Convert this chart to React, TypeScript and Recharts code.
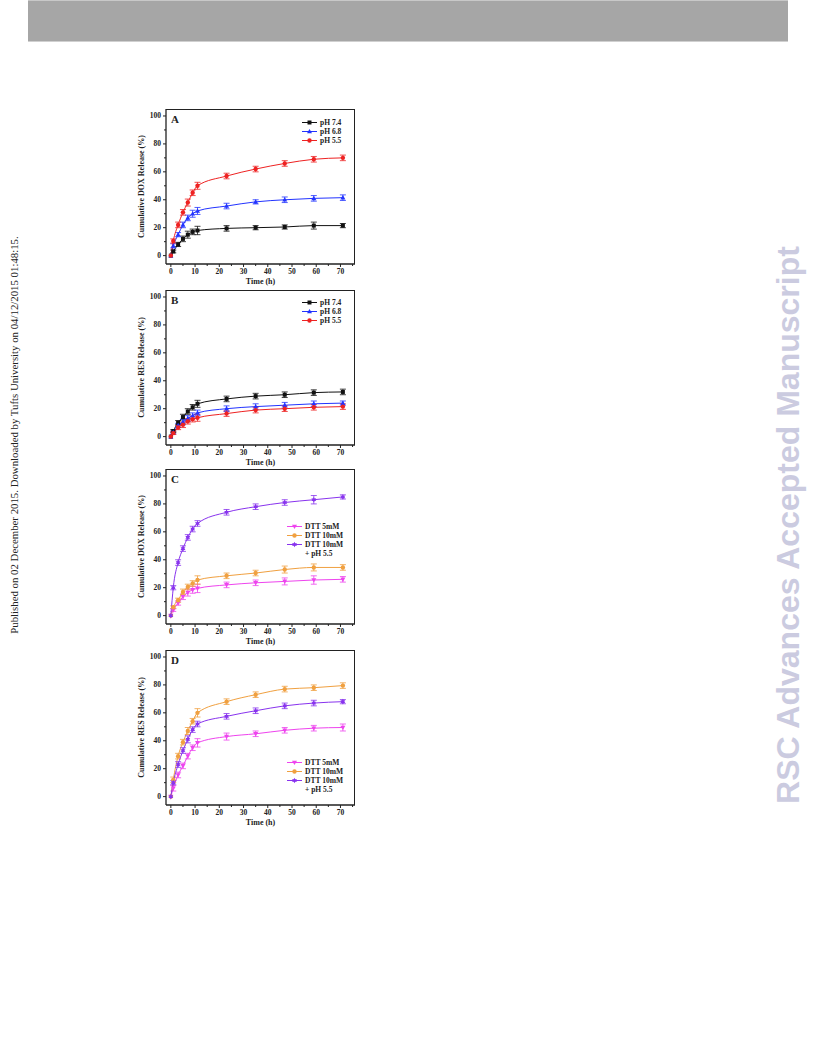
import React from 'react';
import { LineChart, Line, XAxis, YAxis, ErrorBar, Label } from 'recharts';

// sampling times (h)
const hours = [0, 1, 3, 5, 7, 9, 11, 23, 35, 47, 59, 71];

// A: DOX release at different pH
const doxPh74 = [0, 3, 8, 12, 15, 17, 18, 19.5, 20, 20.5, 21.5, 21.5];
const doxPh74Err = [0, 1, 1.5, 2, 2.5, 2, 3, 2, 1.5, 1.5, 2.5, 1.5];
const doxPh68 = [0, 7, 15, 22, 27, 30, 32, 35.5, 38.5, 40, 41, 41.5];
const doxPh68Err = [0, 1.5, 1.5, 2, 2, 2.5, 2.5, 2, 1.5, 2, 2, 2];
const doxPh55 = [0, 10.5, 22, 31, 38, 45, 50, 57, 62, 66, 69, 70];
const doxPh55Err = [0, 1.5, 2, 2, 2.5, 2, 2.5, 2, 2, 2, 2, 2];

// B: RES release at different pH
const resPh74 = [0, 4, 10, 14, 18, 21, 23.5, 27, 29, 30, 31.5, 32];
const resPh74Err = [0, 1, 1.5, 2, 2, 2, 2.5, 2, 2, 2, 2, 2];
const resPh68 = [0, 3, 8, 10.5, 13, 15, 17, 20, 21.5, 22.5, 23.5, 24];
const resPh68Err = [0, 1, 1.5, 2, 2, 2, 2, 2, 2, 2, 2, 1.5];
const resPh55 = [0, 2.5, 6.5, 8.5, 11, 12.5, 13.5, 16.5, 19, 20, 21, 21.5];
const resPh55Err = [0, 1, 1.5, 2, 2, 2, 2.5, 2, 2, 2, 2, 2];

// C: DOX release with DTT
const doxDtt5 = [0, 4, 9, 13.5, 16.5, 18.5, 19.5, 22, 23.5, 24.5, 25.5, 26];
const doxDtt5Err = [0, 1, 1.5, 2, 2.5, 2.5, 3, 2, 2, 2.5, 3, 2];
const doxDtt10 = [0, 6, 11, 17, 20.5, 23, 25.5, 28.5, 30.5, 33, 34.5, 34.5];
const doxDtt10Err = [0, 1, 1.5, 2, 2, 2, 3, 2, 2, 2.5, 2.5, 2];
const doxDtt10Ph55 = [0, 20, 38, 48, 56, 62, 66, 74, 78, 81, 83, 85];
const doxDtt10Ph55Err = [0, 1.5, 2, 2, 2, 2, 2, 2, 2, 2, 3, 1.5];

// D: RES release with DTT
const resDtt5 = [0, 6, 15.5, 22, 29, 35, 38.5, 43, 45, 47.5, 49, 49.5];
const resDtt5Err = [0, 2, 2, 2, 2, 2, 3, 2.5, 2, 2, 2, 2.5];
const resDtt10 = [0, 12, 29, 39, 47, 54, 60, 68, 73, 77, 78, 79.5];
const resDtt10Err = [0, 2, 2, 2, 2.5, 2, 3, 2, 2, 2, 2, 2];
const resDtt10Ph55 = [0, 10, 23, 33, 41, 48, 52, 57.5, 61.5, 65, 67, 68];
const resDtt10Ph55Err = [0, 1.5, 2, 2, 2.5, 2, 2, 2, 2, 2, 2, 1.5];

const xTicks = [0, 5, 10, 15, 20, 25, 30, 35, 40, 45, 50, 55, 60, 65, 70, 75];
const yTicks = [0, 10, 20, 30, 40, 50, 60, 70, 80, 90, 100];

const FONT = '"Liberation Serif", "Times New Roman", serif';
const INK = '#222';

type Shape = 'square' | 'up' | 'circle' | 'down' | 'dot' | 'star';

interface Series {
  name: string;
  color: string;
  shape: Shape;
  values: number[];
  errors: number[];
}

const Marker = ({ shape, cx, cy, color }: { shape: Shape; cx: number; cy: number; color: string }) => {
  switch (shape) {
    case 'square':
      return <rect x={cx - 2} y={cy - 2} width={4} height={4} fill={color} />;
    case 'up':
      return <polygon points={`${cx},${cy - 2.6} ${cx - 2.5},${cy + 1.8} ${cx + 2.5},${cy + 1.8}`} fill={color} />;
    case 'down':
      return <polygon points={`${cx},${cy + 2.6} ${cx - 2.5},${cy - 1.8} ${cx + 2.5},${cy - 1.8}`} fill={color} />;
    case 'star': {
      const pts: string[] = [];
      for (let k = 0; k < 12; k++) {
        const r = k % 2 === 0 ? 2.8 : 1.5;
        const a = (Math.PI / 6) * k - Math.PI / 2;
        pts.push(`${cx + r * Math.cos(a)},${cy + r * Math.sin(a)}`);
      }
      return <polygon points={pts.join(' ')} fill={color} />;
    }
    default:
      return <circle cx={cx} cy={cy} r={2.2} fill={color} />;
  }
};

const XTick = (props: any) => {
  const { x, y, payload } = props;
  const major = payload.value % 10 === 0 && payload.value <= 70;
  return (
    <g>
      <line x1={x} x2={x} y1={y} y2={y + (major ? 3 : 2)} stroke={INK} strokeWidth={1} />
      {major && (
        <text x={x} y={y + 10} textAnchor="middle" fontSize={7.5} fontWeight="bold" fontFamily={FONT} fill={INK}>
          {payload.value}
        </text>
      )}
    </g>
  );
};

const YTick = (props: any) => {
  const { x, y, payload } = props;
  const major = payload.value % 20 === 0;
  return (
    <g>
      <line x1={x} x2={x - (major ? 3 : 2)} y1={y} y2={y} stroke={INK} strokeWidth={1} />
      {major && (
        <text x={x - 5} y={y + 2.5} textAnchor="end" fontSize={7.5} fontWeight="bold" fontFamily={FONT} fill={INK}>
          {payload.value}
        </text>
      )}
    </g>
  );
};

interface PanelProps {
  top: number;
  letter: string;
  yLabel: string;
  series: Series[];
  legendLeft: number;
  legendTop: number;
  legendNote?: string;
}

const Panel = ({ top, letter, yLabel, series, legendLeft, legendTop, legendNote }: PanelProps) => {
  const rows = hours.map((t, i) => {
    const row: any = { t };
    series.forEach((s, k) => {
      row[`s${k}`] = s.values[i];
      row[`s${k}e`] = s.errors[i];
    });
    return row;
  });

  return (
    <>
      <div style={{ position: 'absolute', left: 130, top: top - 4 }}>
        <LineChart width={230} height={185} data={rows} margin={{ top: 4, right: 5, bottom: 0, left: 0 }}>
          <XAxis
            dataKey="t"
            type="number"
            domain={[-2, 76]}
            ticks={xTicks}
            interval={0}
            height={26}
            tickSize={0}
            tickMargin={0}
            tick={<XTick />}
            axisLine={{ stroke: INK, strokeWidth: 1.3 }}
            allowDataOverflow
          >
            <Label
              content={({ viewBox }: any) => (
                <text
                  x={viewBox.x + viewBox.width / 2}
                  y={viewBox.y + 20}
                  textAnchor="middle"
                  fontSize={8}
                  fontWeight="bold"
                  fontFamily={FONT}
                  fill={INK}
                >
                  Time (h)
                </text>
              )}
            />
          </XAxis>
          <YAxis
            type="number"
            domain={[-6, 105]}
            ticks={yTicks}
            interval={0}
            width={36}
            tickSize={0}
            tickMargin={0}
            tick={<YTick />}
            axisLine={{ stroke: INK, strokeWidth: 1.3 }}
            allowDataOverflow
          >
            <Label
              content={({ viewBox }: any) => {
                const lx = viewBox.x + 14;
                const ly = viewBox.y + viewBox.height / 2;
                return (
                  <text
                    x={lx}
                    y={ly}
                    transform={`rotate(-90, ${lx}, ${ly})`}
                    textAnchor="middle"
                    fontSize={8}
                    fontWeight="bold"
                    fontFamily={FONT}
                    fill={INK}
                  >
                    {yLabel}
                  </text>
                );
              }}
            />
          </YAxis>
          {series.map((s, k) => (
            <Line
              key={s.name + k}
              type="monotone"
              dataKey={`s${k}`}
              stroke={s.color}
              strokeWidth={1}
              isAnimationActive={false}
              dot={(p: any) => <Marker key={`d${k}-${p.index}`} shape={s.shape} cx={p.cx} cy={p.cy} color={s.color} />}
              activeDot={false}
            >
              <ErrorBar dataKey={`s${k}e`} width={3} stroke={s.color} strokeWidth={0.8} direction="y" />
            </Line>
          ))}
        </LineChart>
      </div>

      {/* closing frame (top and right edges) */}
      <div
        style={{
          position: 'absolute',
          left: 166,
          top,
          width: 189,
          height: 155,
          borderTop: `1.3px solid ${INK}`,
          borderRight: `1.3px solid ${INK}`,
          boxSizing: 'border-box',
          pointerEvents: 'none',
        }}
      />

      <div
        style={{
          position: 'absolute',
          left: 171,
          top: top + 4,
          fontFamily: FONT,
          fontWeight: 'bold',
          fontSize: 11,
          color: INK,
        }}
      >
        {letter}
      </div>

      <div style={{ position: 'absolute', left: legendLeft, top: legendTop - 4.5, fontFamily: FONT }}>
        {series.map((s) => (
          <div key={s.name + s.shape} style={{ display: 'flex', alignItems: 'center', height: 9 }}>
            <svg width={16} height={9}>
              <line x1={0} x2={15} y1={4.5} y2={4.5} stroke={s.color} strokeWidth={1} />
              <Marker shape={s.shape} cx={7.5} cy={4.5} color={s.color} />
            </svg>
            <span style={{ fontSize: 7.5, fontWeight: 'bold', color: INK, marginLeft: 2, lineHeight: '9px' }}>
              {s.name}
            </span>
          </div>
        ))}
        {legendNote && (
          <div style={{ height: 9, paddingLeft: 18, fontSize: 7.5, fontWeight: 'bold', color: INK, lineHeight: '9px' }}>
            {legendNote}
          </div>
        )}
      </div>
    </>
  );
};

const BLACK = '#111111';
const BLUE = '#2233ff';
const RED = '#ee2222';
const MAGENTA = '#ee44ee';
const ORANGE = '#f0a040';
const PURPLE = '#8833ee';

const panelA: Series[] = [
  { name: 'pH 7.4', color: BLACK, shape: 'square', values: doxPh74, errors: doxPh74Err },
  { name: 'pH 6.8', color: BLUE, shape: 'up', values: doxPh68, errors: doxPh68Err },
  { name: 'pH 5.5', color: RED, shape: 'circle', values: doxPh55, errors: doxPh55Err },
];
const panelB: Series[] = [
  { name: 'pH 7.4', color: BLACK, shape: 'square', values: resPh74, errors: resPh74Err },
  { name: 'pH 6.8', color: BLUE, shape: 'up', values: resPh68, errors: resPh68Err },
  { name: 'pH 5.5', color: RED, shape: 'circle', values: resPh55, errors: resPh55Err },
];
const panelC: Series[] = [
  { name: 'DTT 5mM', color: MAGENTA, shape: 'down', values: doxDtt5, errors: doxDtt5Err },
  { name: 'DTT 10mM', color: ORANGE, shape: 'dot', values: doxDtt10, errors: doxDtt10Err },
  { name: 'DTT 10mM', color: PURPLE, shape: 'star', values: doxDtt10Ph55, errors: doxDtt10Ph55Err },
];
const panelD: Series[] = [
  { name: 'DTT 5mM', color: MAGENTA, shape: 'down', values: resDtt5, errors: resDtt5Err },
  { name: 'DTT 10mM', color: ORANGE, shape: 'dot', values: resDtt10, errors: resDtt10Err },
  { name: 'DTT 10mM', color: PURPLE, shape: 'star', values: resDtt10Ph55, errors: resDtt10Ph55Err },
];

export default function App() {
  return (
    <div style={{ position: 'absolute', left: 0, top: 0, width: 816, height: 1056, background: '#fff', overflow: 'hidden' }}>
      {/* header band */}
      <div
        style={{
          position: 'absolute',
          left: 28,
          top: 0,
          width: 760,
          height: 42,
          background: '#a6a6a6',
          borderTop: '1px solid #c8c8c8',
          borderBottom: '1px solid #d0d0d0',
          boxSizing: 'border-box',
        }}
      />

      <div
        style={{
          position: 'absolute',
          left: 14,
          top: 435,
          transform: 'translate(-50%, -50%) rotate(-90deg)',
          whiteSpace: 'nowrap',
          fontFamily: FONT,
          fontSize: 10.8,
          color: '#222',
        }}
      >
        Published on 02 December 2015. Downloaded by Tufts University on 04/12/2015 01:48:15.
      </div>

      <div
        style={{
          position: 'absolute',
          left: 788,
          top: 525,
          transform: 'translate(-50%, -50%) rotate(-90deg)',
          whiteSpace: 'nowrap',
          fontFamily: '"Liberation Sans", Arial, sans-serif',
          fontWeight: 'bold',
          fontSize: 32,
          color: '#cbcbe0',
        }}
      >
        RSC Advances Accepted Manuscript
      </div>

      <Panel top={109} letter="A" yLabel="Cumulative DOX Release (%)" series={panelA} legendLeft={302} legendTop={122} />
      <Panel top={290} letter="B" yLabel="Cumulative RES Release (%)" series={panelB} legendLeft={302} legendTop={302} />
      <Panel
        top={469}
        letter="C"
        yLabel="Cumulative DOX Release (%)"
        series={panelC}
        legendLeft={287}
        legendTop={526}
        legendNote="+ pH 5.5"
      />
      <Panel
        top={650}
        letter="D"
        yLabel="Cumulative RES Release (%)"
        series={panelD}
        legendLeft={287}
        legendTop={762}
        legendNote="+ pH 5.5"
      />
    </div>
  );
}
